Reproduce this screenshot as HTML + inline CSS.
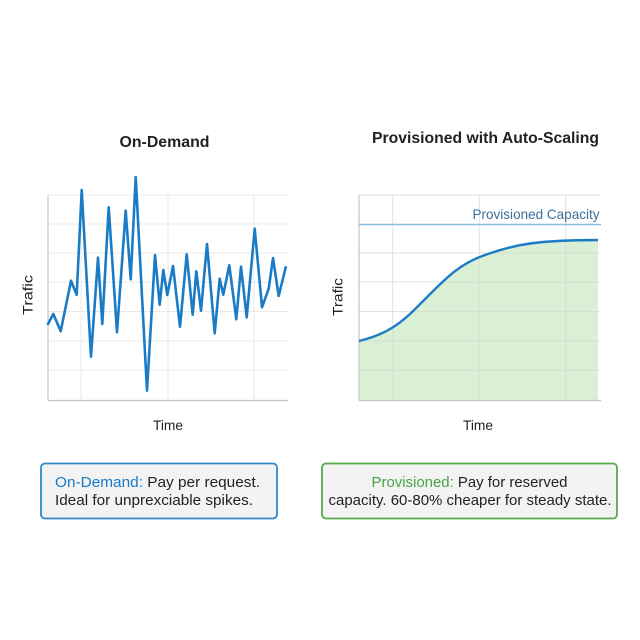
<!DOCTYPE html>
<html><head><meta charset="utf-8"><style>
html,body{margin:0;padding:0;background:#fff;}
svg{display:block;}
text{font-family:"Liberation Sans",Arial,sans-serif;}
</style></head><body>
<svg width="640" height="640" viewBox="0 0 640 640" xmlns="http://www.w3.org/2000/svg">
<rect width="640" height="640" fill="#fff"/>
<!-- Titles -->
<text x="164.5" y="147" font-size="16" font-weight="bold" fill="#222" text-anchor="middle" textLength="90" lengthAdjust="spacingAndGlyphs">On-Demand</text>
<text x="485.5" y="143" font-size="16" font-weight="bold" fill="#222" text-anchor="middle" textLength="227" lengthAdjust="spacingAndGlyphs">Provisioned with Auto-Scaling</text>

<!-- Left chart grid -->
<g stroke="#e8e8e8" stroke-width="1" fill="none">
<line x1="48" y1="195" x2="288" y2="195"/>
<line x1="48" y1="224" x2="288" y2="224"/>
<line x1="48" y1="253" x2="288" y2="253"/>
<line x1="48" y1="282" x2="288" y2="282"/>
<line x1="48" y1="311.5" x2="288" y2="311.5"/>
<line x1="48" y1="341" x2="288" y2="341"/>
<line x1="48" y1="370" x2="288" y2="370"/>
<line x1="81" y1="195" x2="81" y2="400"/>
<line x1="168" y1="195" x2="168" y2="400"/>
<line x1="254" y1="195" x2="254" y2="400"/>
</g>
<g stroke="#c4c4c4" stroke-width="1.2" fill="none">
<line x1="48" y1="195" x2="48" y2="400.5"/>
<line x1="48" y1="400.5" x2="288" y2="400.5"/>
</g>
<polyline fill="none" stroke="#1a7cc6" stroke-width="2.6" stroke-linejoin="round" stroke-linecap="round" points="48,324 53.3,314 60.7,331.3 71,280.7 76.7,294.7 81.7,190 91,356.7 98,257.7 102.3,324 108.7,207.3 117,332.3 125.7,210.7 130.7,279.3 135.7,177 147,390.7 155,255 159.7,304.7 163.3,270 167.3,295 173,266 180,326.7 186.7,254.3 192.7,314.7 196.3,271.3 201,310.7 207,244 214.7,333.3 219.7,278.7 223.3,294.7 229.3,265.3 236.3,319.3 241,266.7 246.7,317.3 254.7,228.7 262,307.3 268.7,288.7 273,258 278.7,296 285.7,267.3"/>
<text transform="translate(32.5,295) rotate(-90)" font-size="14" fill="#222" text-anchor="middle" textLength="40" lengthAdjust="spacingAndGlyphs">Trafic</text>
<text x="168" y="430" font-size="14" fill="#222" text-anchor="middle" textLength="30" lengthAdjust="spacingAndGlyphs">Time</text>

<!-- Right chart -->
<path d="M359,341 C380,336 395,328 410,314 C440,285 455,265 485,255 C515,244 540,240 598,240 L598,400 L359,400 Z" fill="#d9f0d4"/>
<g stroke="#d6d6d6" stroke-opacity="0.7" stroke-width="1" fill="none">
<line x1="359" y1="195" x2="601" y2="195"/>
<line x1="359" y1="253" x2="601" y2="253"/>
<line x1="359" y1="282" x2="601" y2="282"/>
<line x1="359" y1="311.5" x2="601" y2="311.5"/>
<line x1="359" y1="341" x2="601" y2="341"/>
<line x1="359" y1="370" x2="601" y2="370"/>
<line x1="392.7" y1="195" x2="392.7" y2="400"/>
<line x1="479.3" y1="195" x2="479.3" y2="400"/>
<line x1="565.7" y1="195" x2="565.7" y2="400"/>
</g>
<g stroke="#c4c4c4" stroke-width="1.2" fill="none">
<line x1="359" y1="195" x2="359" y2="400.5"/>
<line x1="359" y1="400.5" x2="601" y2="400.5"/>
</g>
<line x1="359" y1="224.5" x2="601" y2="224.5" stroke="#8cbbe0" stroke-width="1.6"/>
<text x="599.5" y="219" font-size="14" fill="#3d6f98" text-anchor="end" textLength="127" lengthAdjust="spacingAndGlyphs">Provisioned Capacity</text>
<path d="M359,341 C380,336 395,328 410,314 C440,285 455,265 485,255 C515,244 540,240 598,240" fill="none" stroke="#1a7cc6" stroke-width="2.4"/>
<text transform="translate(342.5,297) rotate(-90)" font-size="14" fill="#222" text-anchor="middle" textLength="38" lengthAdjust="spacingAndGlyphs">Trafic</text>
<text x="478" y="430" font-size="14" fill="#222" text-anchor="middle" textLength="30" lengthAdjust="spacingAndGlyphs">Time</text>

<!-- Boxes -->
<rect x="41" y="463.5" width="236" height="55" rx="4" ry="4" fill="#f3f3f3" stroke="#2f88cc" stroke-width="1.8"/>
<text x="55" y="487" font-size="15" fill="#222" textLength="205" lengthAdjust="spacingAndGlyphs"><tspan fill="#1a7cc6">On-Demand:</tspan> Pay per request.</text>
<text x="55" y="505" font-size="15" fill="#222" textLength="198" lengthAdjust="spacingAndGlyphs">Ideal for unprexciable spikes.</text>

<rect x="322" y="463.5" width="295" height="55" rx="4" ry="4" fill="#f3f3f3" stroke="#55a84c" stroke-width="1.8"/>
<text x="469.5" y="487" font-size="15" fill="#222" text-anchor="middle" textLength="196" lengthAdjust="spacingAndGlyphs"><tspan fill="#4aa444">Provisioned:</tspan> Pay for reserved</text>
<text x="470" y="505" font-size="15" fill="#222" text-anchor="middle" textLength="283" lengthAdjust="spacingAndGlyphs">capacity. 60-80% cheaper for steady state.</text>
</svg>
</body></html>
